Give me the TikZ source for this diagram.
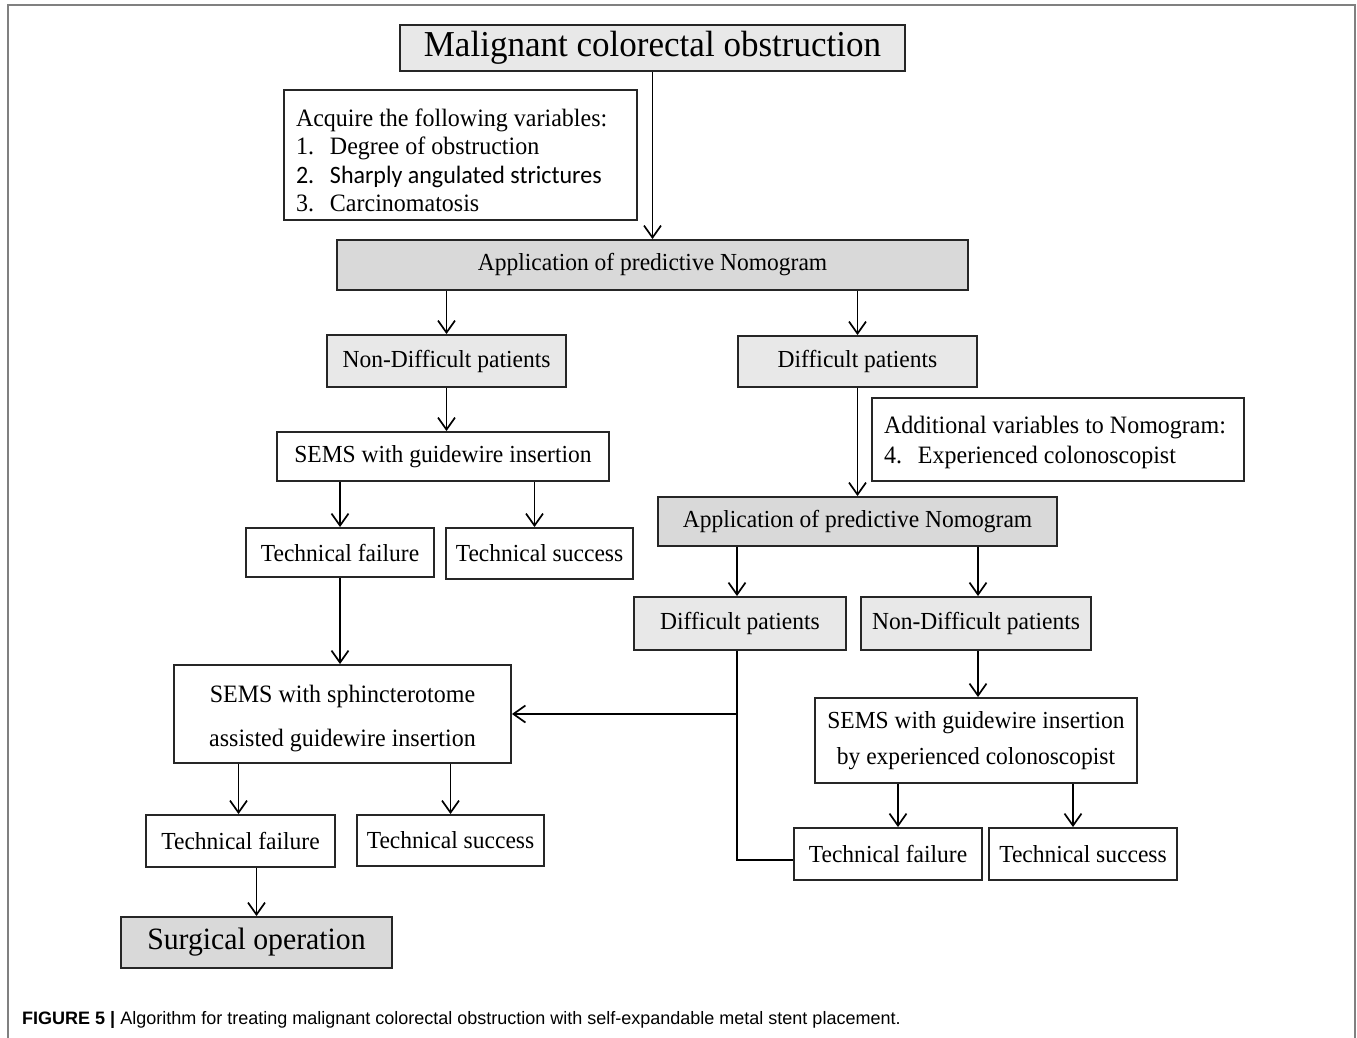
\documentclass[tikz,border=0pt]{standalone}
\usepackage{fontspec}
\setmainfont{Liberation Serif}[FakeStretch=0.96]
\newfontfamily\capfont{Liberation Sans}
\newfontfamily\calfont{Carlito}[FakeStretch=0.96]
\usetikzlibrary{arrows.meta}
\definecolor{boxgrayA}{HTML}{E8E8E8}
\definecolor{boxgrayB}{HTML}{D9D9D9}
\definecolor{framegray}{HTML}{808080}
\tikzset{box/.style={draw=black!85, line width=1.9pt, inner sep=0pt, align=center,
    font=\fontsize{24.5}{29}\selectfont},
  lightbox/.style={box, fill=boxgrayA},
  darkbox/.style={box, fill=boxgrayB},
  sz/.style 2 args={minimum width=#1pt, minimum height=#2pt},
  arr/.style={line width=1.7pt, -{Straight Barb[length=12pt,width=17pt,line width=1.7pt]}},
  }

\begin{document}
\begin{tikzpicture}[x=1pt,y=-1pt]
\useasboundingbox (0,0) rectangle (1357,1038);
\draw[framegray, line width=2pt] (8,1038) -- (8,5) -- (1355,5) -- (1355,1038);
% top of the chart
\node[lightbox, sz={505}{46}, font=\fontsize{36.5}{40}\selectfont] (malig) at (652.5,48) {Malignant colorectal obstruction};
\node[box, text width=329pt, inner xsep=12pt, minimum height=130pt, align=left,
  font=\fontsize{25}{28.5}\selectfont] (acq) at (460.5,155)
  {\spaceskip=0pt\relax\rule{0pt}{28pt}Acquire the following variables:\\
   \makebox[34pt][l]{1.}Degree of obstruction\\
   {\calfont\makebox[34pt][l]{2.}Sharply angulated strictures}\\
   \makebox[34pt][l]{3.}Carcinomatosis};
\node[darkbox, sz={631}{50}] (nomoA) at (652.5,265) {Application of predictive Nomogram};
% left branch
\node[lightbox, sz={239}{52}] (nondiffA) at (446.5,361) {Non-Difficult patients};
\node[box, sz={332}{49}] (semsA) at (443,456.5) {SEMS with guidewire insertion};
\node[box, sz={188}{49}] (failA) at (340,552.5) {Technical failure};
\node[box, sz={187}{51}] (succA) at (539.5,553.5) {Technical success};
\node[box, sz={337}{98}, font=\fontsize{25}{44}\selectfont] (semsB) at (342.5,714)
  {\rule{0pt}{26pt}SEMS with sphincterotome\\assisted guidewire insertion};
\node[box, sz={189}{52}] (failB) at (240.5,841) {Technical failure};
\node[box, sz={187}{51}] (succB) at (450.5,840.5) {Technical success};
\node[darkbox, sz={271}{51}, font=\fontsize{31}{34}\selectfont] (surg) at (256.5,942.5) {Surgical operation};
% right branch
\node[lightbox, sz={239}{51}] (diffA) at (857.5,361.5) {Difficult patients};
\node[box, text width=348pt, inner xsep=12pt, minimum height=83pt, align=left,
  font=\fontsize{25}{30}\selectfont] (addvar) at (1058,439.5)
  {\spaceskip=0pt\relax\rule{0pt}{24pt}Additional variables to Nomogram:\\
   \makebox[34pt][l]{4.}Experienced colonoscopist};
\node[darkbox, sz={399}{49}] (nomoB) at (857.5,521.5) {Application of predictive Nomogram};
\node[lightbox, sz={212}{53}] (diffB) at (740,623.5) {Difficult patients};
\node[lightbox, sz={230}{53}] (nondiffB) at (976,623.5) {Non-Difficult patients};
\node[box, sz={322}{85}, font=\fontsize{24.5}{36}\selectfont] (semsC) at (976,740.5)
  {SEMS with guidewire insertion\\by experienced colonoscopist};
\node[box, sz={188}{52}] (failC) at (888,854) {Technical failure};
\node[box, sz={188}{52}] (succC) at (1083,854) {Technical success};
% caption
\node[anchor=west, inner sep=0pt, font=\capfont\fontsize{18}{22}\selectfont] (cap) at (22,1020)
  {\textbf{FIGURE 5 |} Algorithm for treating malignant colorectal obstruction with self-expandable metal stent placement.};

% connectors
\draw[arr] (malig) -- (nomoA);
\draw[arr] (nomoA.south -| nondiffA.north) -- (nondiffA.north);
\draw[arr] (nomoA.south -| diffA.north) -- (diffA.north);
\draw[arr] (nondiffA.south) -- (nondiffA.south |- semsA.north);
\draw[arr] (semsA.south -| failA.north) -- (failA.north);
\draw[arr] ([xshift=-5pt]semsA.south -| succA.north) -- ([xshift=-5pt]succA.north);
\draw[arr] (failA.south) -- (failA.south |- semsB.north);
\draw[arr] ([xshift=-2pt]semsB.south -| failB.north) -- ([xshift=-2pt]failB.north);
\draw[arr] (semsB.south -| succB.north) -- (succB.north);
\draw[arr] (failB.south -| surg.north) -- (surg.north);
\draw[arr] (diffA.south -| nomoB.north) -- (nomoB.north);
\draw[arr] ([xshift=-3pt]nomoB.south -| diffB.north) -- ([xshift=-3pt]diffB.north);
\draw[arr] ([xshift=2pt]nomoB.south -| nondiffB.north) -- ([xshift=2pt]nondiffB.north);
\draw[arr] ([xshift=2pt]nondiffB.south) -- ([xshift=2pt]nondiffB.south |- semsC.north);
\draw[arr] ([xshift=10pt]semsC.south -| failC.north) -- ([xshift=10pt]failC.north);
\draw[arr] ([xshift=-10pt]semsC.south -| succC.north) -- ([xshift=-10pt]succC.north);
\coordinate (jn) at ([xshift=-3pt]diffB.south |- semsB.east);
\draw[line width=1.7pt] ([xshift=-3pt]diffB.south) |- ([yshift=-6pt]failC.west);
\draw[arr] (jn) -- (semsB.east);
\end{tikzpicture}
\end{document}
